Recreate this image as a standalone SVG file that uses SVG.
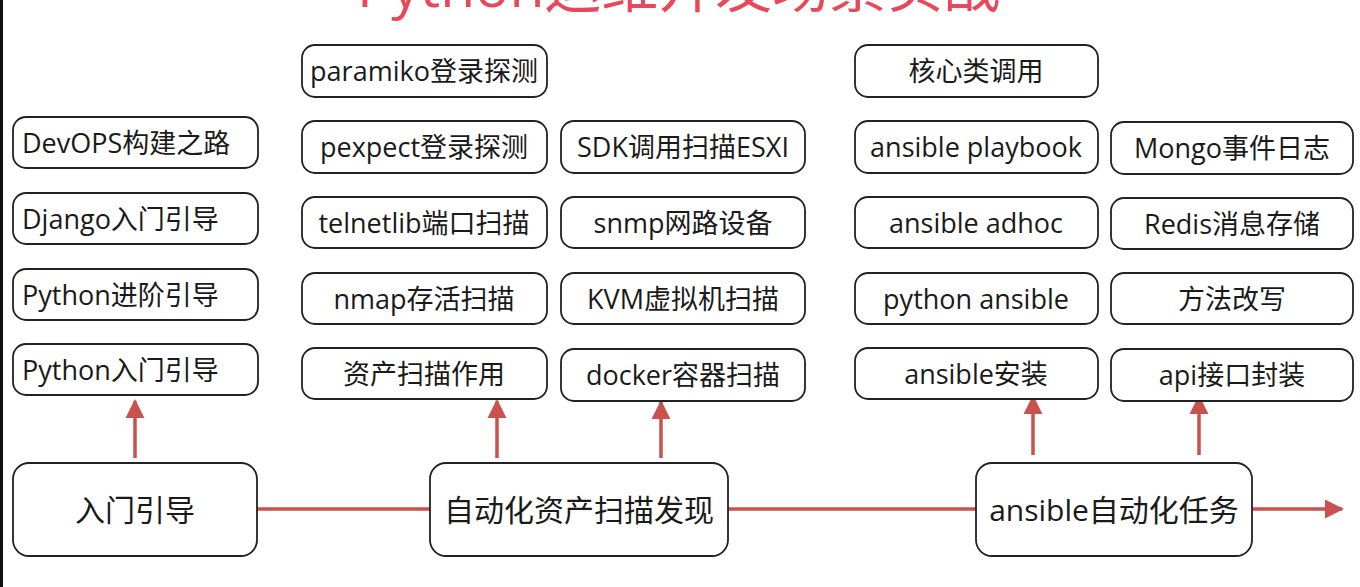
<svg xmlns="http://www.w3.org/2000/svg" width="1360" height="587" viewBox="0 0 1360 587">
<defs>
<style>
.b{fill:#fff;stroke:#222;stroke-width:1.8}
.t{font-family:"Open Sans","Noto Sans CJK SC",sans-serif;font-size:27px;fill:#1a1a1a;text-anchor:middle}
.tl{text-anchor:start}
.big{font-size:30px}
.c{stroke:#c9524e;stroke-width:3.5;fill:none}
.title{font-family:"Open Sans","Noto Sans CJK SC",sans-serif;font-size:57px;fill:#e8485a}
</style>
<marker id="ah" viewBox="0 0 10 10" refX="9" refY="5" markerWidth="5.5" markerHeight="5.5" markerUnits="strokeWidth" orient="auto">
<path d="M0,0 L10,5 L0,10 z" fill="#c9524e"/>
</marker>
</defs>
<rect x="0" y="0" width="1360" height="587" fill="#fff"/>
<rect x="0" y="0" width="3" height="587" fill="#111"/>
<text class="title" x="357" y="7">Python运维开发场景实战</text>

<g id="connectors">
<line class="c" x1="257" y1="509" x2="430" y2="509"/>
<line class="c" x1="728" y1="509" x2="976" y2="509"/>
<line class="c" x1="1252" y1="509" x2="1342" y2="509" marker-end="url(#ah)"/>
<line class="c" x1="135" y1="458" x2="135" y2="401" marker-end="url(#ah)"/>
<line class="c" x1="497" y1="458" x2="497" y2="401" marker-end="url(#ah)"/>
<line class="c" x1="661" y1="458" x2="661" y2="402" marker-end="url(#ah)"/>
<line class="c" x1="1033" y1="455" x2="1033" y2="397" marker-end="url(#ah)"/>
<line class="c" x1="1199" y1="455" x2="1199" y2="397" marker-end="url(#ah)"/>
</g>

<g id="n-rumen"><rect class="b" x="13" y="463" width="244" height="93" rx="16"/><text class="t big" x="135" y="521">入门引导</text></g>
<g id="n-zichan"><rect class="b" x="430" y="463" width="298" height="93" rx="16"/><text class="t big" x="579" y="521">自动化资产扫描发现</text></g>
<g id="n-ansible"><rect class="b" x="976" y="463" width="276" height="93" rx="16"/><text class="t big" x="1114" y="521">ansible自动化任务</text></g>

<g id="n-devops"><rect class="b" x="13" y="117" width="245" height="51" rx="13"/><text class="t tl" x="22" y="153">DevOPS构建之路</text></g>
<g id="n-django"><rect class="b" x="13" y="193" width="245" height="51" rx="13"/><text class="t tl" x="22" y="229">Django入门引导</text></g>
<g id="n-pyadv"><rect class="b" x="13" y="269" width="245" height="51" rx="13"/><text class="t tl" x="22" y="305">Python进阶引导</text></g>
<g id="n-pyintro"><rect class="b" x="13" y="344" width="245" height="51" rx="13"/><text class="t tl" x="22" y="380">Python入门引导</text></g>

<g id="n-paramiko"><rect class="b" x="302" y="45" width="245" height="52" rx="13"/><text class="t" x="424" y="81">paramiko登录探测</text></g>
<g id="n-pexpect"><rect class="b" x="302" y="121" width="245" height="52" rx="13"/><text class="t" x="424" y="157">pexpect登录探测</text></g>
<g id="n-telnetlib"><rect class="b" x="302" y="197" width="245" height="51" rx="13"/><text class="t" x="424" y="233">telnetlib端口扫描</text></g>
<g id="n-nmap"><rect class="b" x="302" y="273" width="245" height="51" rx="13"/><text class="t" x="424" y="309">nmap存活扫描</text></g>
<g id="n-zcsmzy"><rect class="b" x="302" y="348" width="245" height="51" rx="13"/><text class="t" x="424" y="384">资产扫描作用</text></g>

<g id="n-sdk"><rect class="b" x="561" y="121" width="244" height="52" rx="13"/><text class="t" x="683" y="157">SDK调用扫描ESXI</text></g>
<g id="n-snmp"><rect class="b" x="561" y="197" width="244" height="51" rx="13"/><text class="t" x="683" y="233">snmp网路设备</text></g>
<g id="n-kvm"><rect class="b" x="561" y="273" width="244" height="51" rx="13"/><text class="t" x="683" y="309">KVM虚拟机扫描</text></g>
<g id="n-docker"><rect class="b" x="561" y="349" width="244" height="52" rx="13"/><text class="t" x="683" y="385">docker容器扫描</text></g>

<g id="n-hexin"><rect class="b" x="855" y="45" width="243" height="52" rx="13"/><text class="t" x="976" y="81">核心类调用</text></g>
<g id="n-playbook"><rect class="b" x="855" y="121" width="243" height="52" rx="13"/><text class="t" x="976" y="157">ansible playbook</text></g>
<g id="n-adhoc"><rect class="b" x="855" y="197" width="243" height="51" rx="13"/><text class="t" x="976" y="233">ansible adhoc</text></g>
<g id="n-pyansible"><rect class="b" x="855" y="273" width="243" height="51" rx="13"/><text class="t" x="976" y="309">python ansible</text></g>
<g id="n-install"><rect class="b" x="855" y="348" width="243" height="51" rx="13"/><text class="t" x="976" y="384">ansible安装</text></g>

<g id="n-mongo"><rect class="b" x="1111" y="122" width="242" height="52" rx="13"/><text class="t" x="1232" y="158">Mongo事件日志</text></g>
<g id="n-redis"><rect class="b" x="1111" y="198" width="242" height="51" rx="13"/><text class="t" x="1232" y="234">Redis消息存储</text></g>
<g id="n-method"><rect class="b" x="1111" y="273" width="242" height="51" rx="13"/><text class="t" x="1232" y="309">方法改写</text></g>
<g id="n-api"><rect class="b" x="1111" y="349" width="242" height="52" rx="13"/><text class="t" x="1232" y="385">api接口封装</text></g>
</svg>
